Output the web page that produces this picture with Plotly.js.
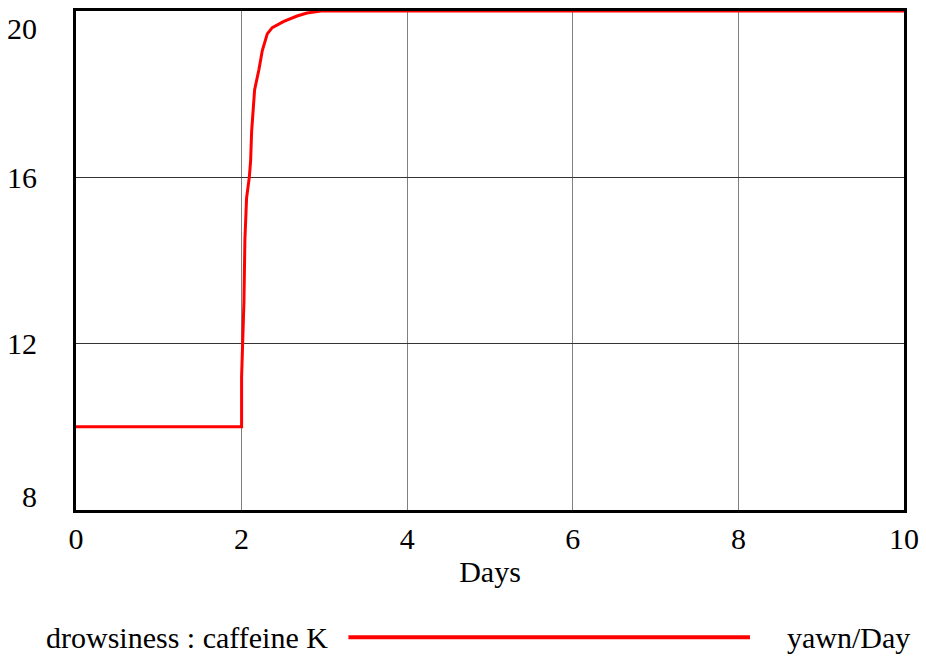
<!DOCTYPE html>
<html>
<head>
<meta charset="utf-8">
<script src="https://cdn.plot.ly/plotly-3.0.1.min.js"></script>
<style>html,body{margin:0;padding:0;background:#fff;}#chart{width:926px;height:658px;}</style>
</head>
<body>
<div id="chart"></div>
<script>
// Data
const days = [0, 2.0, 2.0, 2.016, 2.028, 2.04, 2.06, 2.093, 2.109, 2.121, 2.137, 2.157, 2.21, 2.25, 2.31, 2.37, 2.51, 2.67, 2.79, 2.96, 10];
const drowsiness = [10, 10, 11.2, 12.0, 13.0, 14.5, 15.5, 16.0, 16.4, 17.1, 17.6, 18.1, 18.6, 19.05, 19.45, 19.6, 19.75, 19.88, 19.95, 20.0, 20.0];
const xTicks = [0, 2, 4, 6, 8, 10];
const yTicks = [8, 12, 16, 20];
const seriesName = "drowsiness : caffeine K";
const unitsLabel = "yawn/Day";
const xTitle = "Days";

const FONT = "'Liberation Serif', 'Times New Roman', serif";
const FS = 30;

const yAnn = yTicks.map(v => ({
  xref: 'paper', yref: 'y', x: -0.045, y: v, text: String(v),
  showarrow: false, xanchor: 'right', yanchor: 'middle',
  yshift: v === 20 ? -17 : (v === 8 ? 14 : 0),
  font: {family: FONT, size: FS, color: '#000'}
}));

const legendY = -0.255;
const annotations = yAnn.concat([
  {xref: 'paper', yref: 'paper', x: -0.039, y: legendY, text: seriesName, showarrow: false,
   xanchor: 'left', yanchor: 'middle', font: {family: FONT, size: FS, color: '#000'}},
  {xref: 'paper', yref: 'paper', x: 1.01, y: legendY, text: unitsLabel, showarrow: false,
   xanchor: 'right', yanchor: 'middle', font: {family: FONT, size: FS, color: '#000'}}
]);

const shapes = [
  {type: 'line', xref: 'paper', yref: 'paper', x0: 0.329, x1: 0.814, y0: legendY, y1: legendY,
   line: {color: '#ff0000', width: 4}}
];

const trace = {
  x: days, y: drowsiness, type: 'scatter', mode: 'lines', name: seriesName,
  line: {color: '#ff0000', width: 3}, cliponaxis: false, hoverinfo: 'x+y'
};

const layout = {
  width: 926, height: 658,
  margin: {l: 76, r: 22, t: 11, b: 148},
  paper_bgcolor: '#fff', plot_bgcolor: '#fff',
  showlegend: false,
  font: {family: FONT, size: FS, color: '#000'},
  xaxis: {
    range: [0, 10], tickvals: xTicks, ticktext: xTicks.map(String),
    showgrid: true, gridcolor: '#808080', gridwidth: 1,
    zeroline: false, showline: true, linecolor: '#000', linewidth: 3, mirror: true,
    ticks: '', ticklabelstandoff: 0, layer: 'below traces',
    tickfont: {family: FONT, size: FS, color: '#000'},
    title: {text: xTitle, standoff: 7, font: {family: FONT, size: FS, color: '#000'}}
  },
  yaxis: {
    range: [8, 20], tickvals: [12, 16], showticklabels: false,
    showgrid: true, gridcolor: '#333', gridwidth: 1,
    zeroline: false, showline: true, linecolor: '#000', linewidth: 3, mirror: true,
    ticks: '', layer: 'below traces'
  },
  annotations: annotations,
  shapes: shapes
};

Plotly.newPlot('chart', [trace], layout, {displayModeBar: false, staticPlot: true});
</script>
</body>
</html>
